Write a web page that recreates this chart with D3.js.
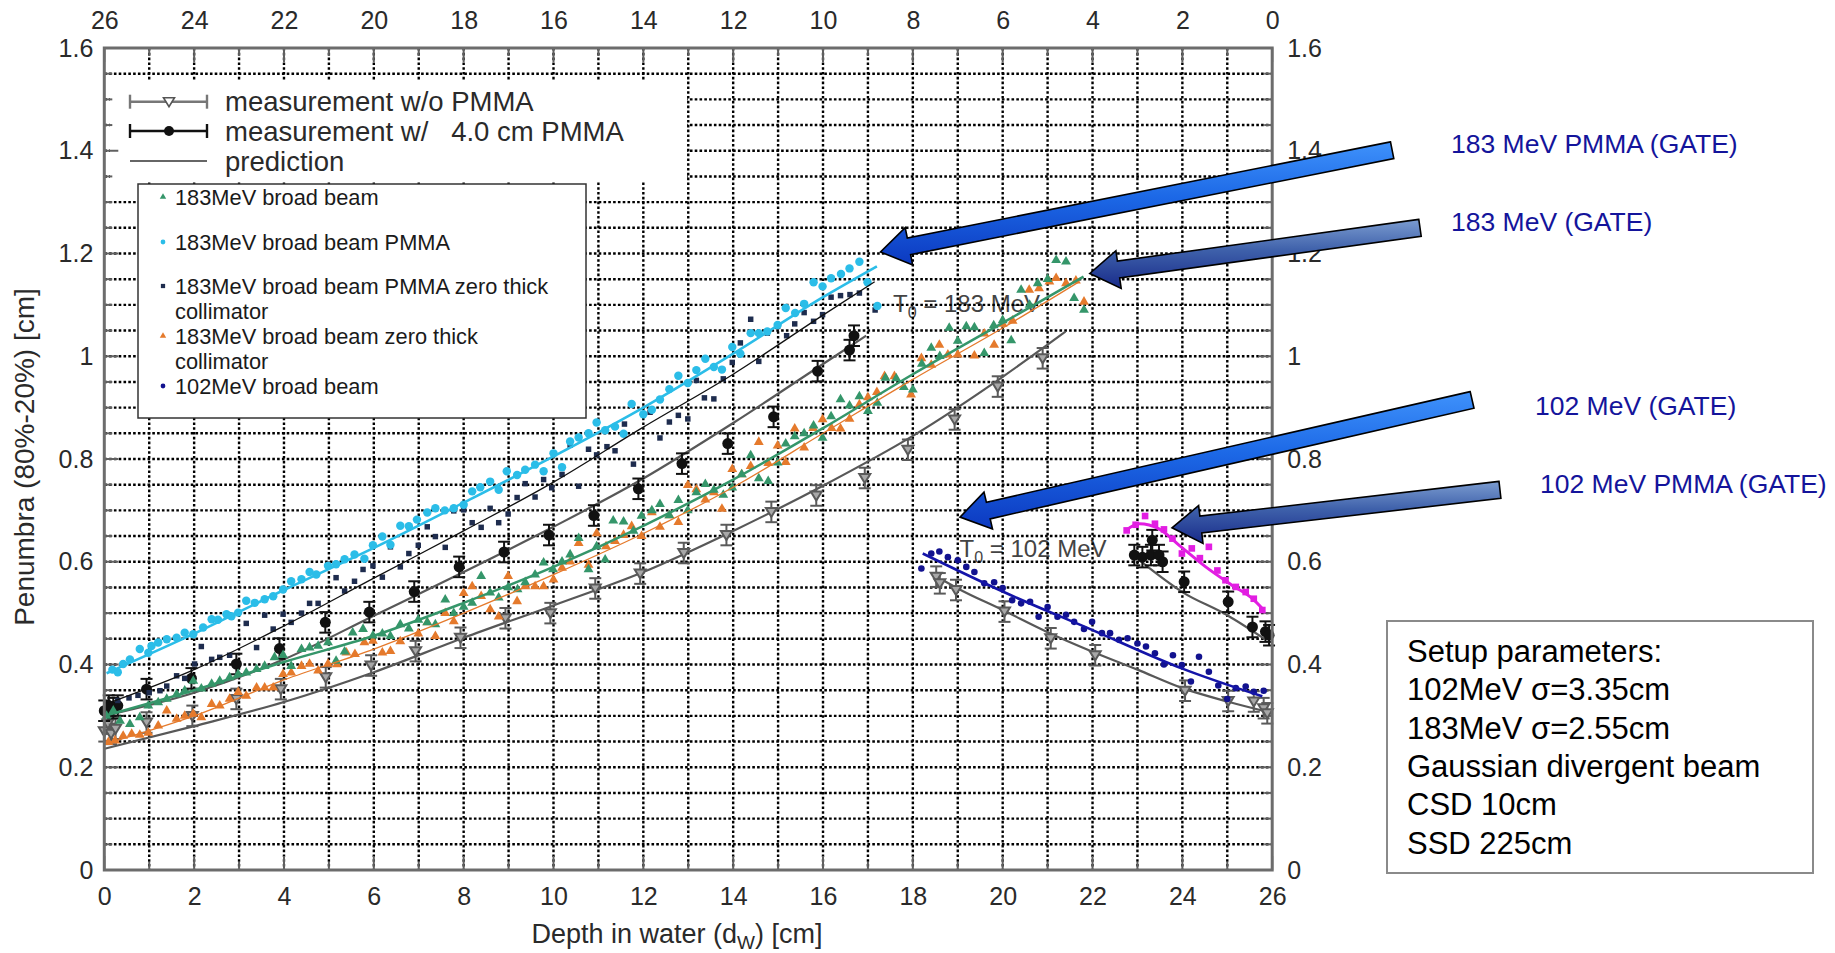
<!DOCTYPE html>
<html>
<head>
<meta charset="utf-8">
<script src="https://cdn.jsdelivr.net/npm/d3@7"></script>
<style>
  body { margin: 0; background: #fff; }
  svg { display: block; font-family: "Liberation Sans", Arial, sans-serif; }
</style>
</head>
<body>
<svg id="chart" width="1835" height="953"></svg>
<script>
// ---- data (depth in cm, penumbra in cm) ----

// GATE: 183MeV broad beam (green triangles)
var green183 = [[0.05,0.30],[0.2,0.31],[0.35,0.29],[0.57,0.284],[0.79,0.297],[0.98,0.32],[1.2,0.326],[1.39,0.333],[1.61,0.342],[1.79,0.349],[1.98,0.368],[2.16,0.353],[2.39,0.362],[2.57,0.368],[2.79,0.375],[2.98,0.381],[3.16,0.384],[3.39,0.391],[3.57,0.397],[3.79,0.414],[3.98,0.418],[4.16,0.397],[4.39,0.43],[4.57,0.433],[4.76,0.436],[4.98,0.443],[5.16,0.407],[5.35,0.425],[5.53,0.462],[5.76,0.469],[5.98,0.456],
  [6.19,0.46],[6.37,0.455],[6.59,0.478],[6.78,0.47],[6.99,0.487],[7.19,0.482],[7.37,0.478],[7.59,0.526],[7.78,0.5],[8.0,0.512],[8.19,0.52],[8.39,0.572],[8.59,0.54],[8.78,0.53],[8.99,0.55],[9.2,0.546],[9.37,0.56],[9.59,0.575],[9.78,0.598],[9.99,0.585],[10.19,0.6],[10.37,0.614],[10.56,0.646],[10.78,0.585],[10.96,0.63],[11.15,0.604],[11.33,0.68],[11.56,0.678],[11.78,0.66],[11.96,0.689],
  [12.19,0.7],[12.37,0.712],[12.58,0.69],[12.78,0.72],[12.99,0.7],[13.18,0.735],[13.38,0.751],[13.57,0.74],[13.78,0.73],[13.98,0.744],[14.19,0.77],[14.39,0.807],[14.57,0.762],[14.78,0.757],[14.99,0.793],[15.17,0.83],[15.37,0.844],[15.58,0.85],[15.79,0.865],[15.99,0.841],[16.18,0.883],[16.39,0.916],[16.59,0.904],[16.81,0.922],[17.0,0.893],[17.21,0.909],[17.39,0.958],[17.63,0.957],[17.8,0.94],[18.0,0.935],[18.2,0.985],[18.41,1.016],[18.6,1.0],[18.81,1.055],[19.0,1.03],[19.19,1.058],[19.37,1.056],[19.59,1.006],[19.8,1.06],[20.0,1.07],[20.19,1.031],[20.41,1.129],[20.6,1.1],[20.78,1.142],[21.0,1.15],[21.19,1.187],[21.41,1.184],[21.59,1.113],[21.81,1.09]];

// GATE: 183MeV broad beam zero thick collimator (orange triangles)
var orange183 = [[0.09,0.249],[0.24,0.252],[0.42,0.261],[0.61,0.265],[0.79,0.263],[0.98,0.267],[1.2,0.281],[1.39,0.31],[1.61,0.294],[1.79,0.3],[1.98,0.304],[2.16,0.297],[2.39,0.323],[2.57,0.32],[2.79,0.333],[2.98,0.346],[3.16,0.339],[3.39,0.355],[3.57,0.355],[3.76,0.355],[3.98,0.381],[4.16,0.384],[4.39,0.397],[4.57,0.401],[4.76,0.388],[4.98,0.401],[5.18,0.4],[5.39,0.423],[5.58,0.42],[5.79,0.443],[5.98,0.446],
  [6.19,0.423],[6.37,0.426],[6.59,0.445],[6.99,0.46],[7.19,0.482],[7.37,0.455],[7.59,0.5],[7.78,0.484],[8.0,0.539],[8.19,0.552],[8.39,0.533],[8.59,0.507],[8.78,0.493],[8.99,0.572],[9.19,0.523],[9.37,0.552],[9.59,0.552],[9.78,0.552],[10.0,0.565],[10.19,0.588],[10.37,0.6],[10.56,0.636],[10.78,0.594],[10.96,0.655],[11.17,0.63],[11.37,0.64],[11.56,0.652],[11.74,0.669],
  [11.96,0.65],[12.19,0.696],[12.37,0.668],[12.58,0.69],[12.78,0.677],[12.99,0.749],[13.18,0.741],[13.38,0.721],[13.57,0.735],[13.75,0.703],[13.98,0.78],[14.19,0.77],[14.39,0.786],[14.57,0.833],[14.78,0.792],[14.99,0.826],[15.17,0.794],[15.37,0.859],[15.58,0.822],[15.78,0.86],[15.99,0.877],[16.19,0.86],[16.39,0.859],[16.59,0.878],[16.81,0.906],[17.0,0.92],[17.2,0.93],[17.37,0.961],[17.59,0.961],[17.96,0.925],[18.19,0.996],[18.41,0.983],[18.59,1.022],[18.78,1.003],[19.0,1.003],[19.37,1.001],[19.59,1.044],[19.81,1.022],[20.0,1.063],[20.22,1.069],[20.59,1.129],[20.81,1.132],[21.04,1.145],[21.19,1.152],[21.41,1.142],[21.63,1.147],[21.81,1.106]];

// GATE: 183MeV broad beam PMMA (cyan dots)
var cyan183 = [[0.18,0.39],[0.3,0.385],[0.42,0.401],[0.57,0.41],[0.79,0.43],[0.98,0.423],[1.05,0.436],[1.2,0.443],[1.39,0.449],[1.61,0.452],[1.79,0.462],[1.98,0.459],[2.2,0.472],[2.39,0.488],[2.53,0.487],[2.72,0.498],[2.83,0.494],[2.98,0.501],[3.16,0.524],[3.35,0.52],[3.57,0.527],[3.76,0.533],[3.98,0.546],[4.16,0.562],[4.39,0.566],[4.57,0.58],[4.72,0.575],[4.98,0.592],[5.16,0.595],[5.35,0.605],[5.57,0.614],[5.79,0.606],[5.98,0.632],
  [6.19,0.649],[6.37,0.633],[6.59,0.67],[6.78,0.669],[6.96,0.682],[7.19,0.696],[7.37,0.704],[7.58,0.7],[7.78,0.704],[8.0,0.711],[8.19,0.737],[8.37,0.745],[8.59,0.756],[8.78,0.74],[8.96,0.776],[9.19,0.769],[9.37,0.779],[9.59,0.789],[9.78,0.776],[10.0,0.811],[10.19,0.784],[10.37,0.834],[10.56,0.842],[10.78,0.85],[10.96,0.871],[11.15,0.856],[11.37,0.863],[11.56,0.849],[11.74,0.907],
  [12.0,0.887],[12.19,0.896],[12.37,0.916],[12.58,0.936],[12.78,0.962],[12.99,0.948],[13.18,0.973],[13.38,0.995],[13.57,0.979],[13.75,0.974],[13.98,1.018],[14.16,1.005],[14.39,1.045],[14.57,1.045],[14.76,1.048],[14.99,1.061],[15.17,1.094],[15.38,1.084],[15.58,1.102],[15.79,1.144],[15.99,1.136],[16.18,1.152],[16.4,1.16],[16.59,1.171],[16.81,1.184],[16.99,1.144],[17.21,1.098]];

// GATE: 183MeV broad beam PMMA zero thick collimator (navy squares)
var navy183 = [[0.3,0.33],[0.55,0.335],[0.75,0.34],[1.0,0.345],[1.24,0.349],[1.39,0.358],[1.61,0.378],[1.79,0.373],[2.01,0.401],[2.16,0.435],[2.39,0.41],[2.57,0.414],[2.79,0.418],[3.16,0.48],[3.39,0.433],[3.57,0.496],[3.76,0.469],[3.98,0.498],[4.16,0.482],[4.39,0.5],[4.57,0.519],[4.76,0.519],[5.16,0.569],[5.35,0.543],[5.57,0.562],[5.76,0.585],[5.98,0.592],
  [6.19,0.57],[6.37,0.629],[6.59,0.59],[6.78,0.616],[6.99,0.632],[7.19,0.668],[7.37,0.649],[7.59,0.628],[7.78,0.699],[8.0,0.701],[8.19,0.676],[8.39,0.667],[8.59,0.704],[8.78,0.676],[8.99,0.693],[9.19,0.725],[9.37,0.752],[9.59,0.726],[9.78,0.76],[9.96,0.744],[10.19,0.77],[10.37,0.827],[10.56,0.747],[10.78,0.819],[10.96,0.808],[11.19,0.824],[11.37,0.816],[11.58,0.868],[11.78,0.79],
  [12.15,0.891],[12.37,0.841],[12.58,0.872],[12.78,0.885],[12.99,0.878],[13.18,0.953],[13.36,0.919],[13.57,0.917],[13.78,0.956],[13.98,0.988],[14.16,1.026],[14.39,1.072],[14.57,0.99],[14.76,1.045],[14.99,1.058],[15.19,1.04],[15.37,1.063],[15.58,1.085],[15.79,1.068],[15.99,1.081],[16.18,1.115],[16.39,1.118],[16.6,1.12],[16.81,1.123],[17.16,1.09]];

// GATE: 102MeV broad beam (blue dots)
var blue102 = [[18.19,0.587],[18.41,0.616],[18.59,0.62],[18.78,0.609],[19.0,0.603],[19.19,0.59],[19.37,0.58],[19.59,0.558],[19.81,0.56],[20.0,0.549],[20.21,0.525],[20.41,0.519],[20.61,0.522],[20.8,0.493],[21.0,0.512],[21.22,0.493],[21.41,0.497],[21.59,0.483],[21.81,0.469],[21.99,0.483],[22.21,0.461],[22.39,0.461],[22.59,0.448],[22.78,0.451],[23.0,0.441],[23.19,0.435],[23.39,0.422],[23.59,0.4],[23.79,0.418],[23.99,0.399],[24.19,0.367],[24.37,0.415],[24.59,0.386],[24.8,0.359],[25.0,0.333],[25.19,0.354],[25.41,0.357],[25.59,0.347],[25.81,0.349]];

// GATE: 102 MeV PMMA (magenta squares)
var magenta102 = [[22.76,0.661],[22.96,0.672],[23.17,0.689],[23.39,0.674],[23.59,0.663],[23.78,0.645],[23.99,0.616],[24.21,0.626],[24.39,0.607],[24.59,0.629],[24.78,0.583],[24.96,0.564],[25.19,0.551],[25.41,0.541],[25.59,0.528],[25.78,0.506]];

// measurement w/o PMMA (grey triangles), 183 and 102 MeV
var woPmma183 = [[0.0,0.27],[0.08,0.285],[0.15,0.265],[0.25,0.275],[0.94,0.287],[1.96,0.3],[2.94,0.333],[3.93,0.352],[4.93,0.375],[5.94,0.398],[6.93,0.426],[7.93,0.452],[8.93,0.49],[9.93,0.5],[10.93,0.548],[11.93,0.577],[12.9,0.617],[13.85,0.652],[14.85,0.697],[15.85,0.729],[16.93,0.763],[17.89,0.818],[18.93,0.877],[19.89,0.941],[20.89,0.996]];
var woPmma102 = [[18.52,0.571],[18.6,0.558],[18.96,0.545],[20.04,0.503],[21.07,0.451],[22.06,0.418],[24.06,0.349],[25.02,0.329],[25.59,0.328],[25.81,0.315],[25.89,0.305]];

// measurement w/ 4.0 cm PMMA (black circles), 183 and 102 MeV
var wPmma183 = [[0.0,0.31],[0.1,0.32],[0.2,0.315],[0.3,0.32],[0.94,0.352],[1.94,0.373],[2.94,0.401],[3.9,0.431],[4.92,0.482],[5.9,0.502],[6.9,0.542],[7.9,0.59],[8.9,0.619],[9.9,0.652],[10.9,0.69],[11.89,0.742],[12.86,0.791],[13.88,0.83],[14.9,0.882],[15.88,0.971],[16.59,1.012],[16.69,1.04]];
var wPmma102 = [[22.93,0.613],[23.11,0.609],[23.3,0.613],[23.33,0.642],[23.48,0.613],[23.56,0.6],[24.04,0.561],[25.02,0.522],[25.56,0.473],[25.85,0.464],[25.93,0.457]];
var measErr = 0.02;

// prediction curves
var predWo183 = [[0,0.236],[2,0.28],[4,0.327],[6,0.385],[8,0.452],[10,0.515],[12,0.58],[14,0.66],[16,0.748],[18,0.845],[20,0.96],[21.4,1.048]];
var predW183 = [[0,0.3],[2,0.345],[4,0.41],[6,0.495],[8,0.58],[10,0.668],[12,0.762],[14,0.87],[16,0.985],[16.96,1.04]];
var predWo102 = [[18.67,0.564],[19,0.548],[20,0.506],[21,0.463],[22,0.425],[23,0.39],[24,0.354],[25,0.328],[25.89,0.308]];
var predW102 = [[23.04,0.603],[24,0.541],[25,0.496],[25.81,0.451]];

// GATE fit curves
var cyanFit = [[0.05,0.383],[2,0.46],[4,0.545],[6,0.627],[8,0.715],[10,0.805],[12,0.9],[14,1.005],[16,1.115],[17.2,1.175]];
var navyFit = [[0,0.322],[2,0.39],[4,0.475],[6,0.568],[8,0.66],[10,0.755],[12,0.862],[14,0.965],[16,1.08],[17.15,1.145]];
var greenFit = [[0,0.3],[2,0.35],[4,0.405],[6,0.456],[8,0.52],[10,0.59],[12,0.67],[14,0.76],[16,0.86],[18,0.965],[20,1.065],[21.8,1.155]];
var orangeFit = [[0,0.245],[2,0.3],[4,0.37],[6,0.43],[8,0.5],[10,0.575],[12,0.655],[14,0.745],[16,0.85],[18,0.955],[20,1.055],[21.7,1.145]];
var blueFit = [[18.22,0.616],[20,0.542],[22,0.467],[24,0.392],[25.78,0.338]];
var magentaFit = [[22.74,0.661],[23.04,0.674],[23.48,0.664],[23.93,0.632],[24.52,0.59],[25.11,0.554],[25.56,0.528],[25.81,0.506]];

// tick labels
var xTicks = d3.range(0, 27, 2);
var yTicks = [0, 0.2, 0.4, 0.6, 0.8, 1, 1.2, 1.4, 1.6];

// legends and notes
var legendMeas = ["measurement w/o PMMA", "measurement w/   4.0 cm PMMA", "prediction"];
var legendGate = [
  {kind: "green", lines: ["183MeV broad beam"]},
  {kind: "cyan", lines: ["183MeV broad beam PMMA"]},
  {kind: "navy", lines: ["183MeV broad beam PMMA zero thick", "collimator"]},
  {kind: "orange", lines: ["183MeV broad beam zero thick", "collimator"]},
  {kind: "blue", lines: ["102MeV broad beam"]}
];
var arrowLabels = ["183 MeV PMMA (GATE)", "183 MeV (GATE)", "102 MeV (GATE)", "102 MeV PMMA (GATE)"];
var arrowTips = [[17.28, 1.203], [21.94, 1.161], [19.05, 0.687], [23.77, 0.666]];
var arrowTails = [[28.67, 1.401], [29.29, 1.25], [30.45, 0.915], [31.07, 0.74]];
var setupLines = ["Setup parameters:", "102MeV \u03c3=3.35cm", "183MeV \u03c3=2.55cm", "Gaussian divergent beam", "CSD 10cm", "SSD 225cm"];

var colors = {green: "#35966a", orange: "#e57a2c", cyan: "#2bbde8", navy: "#1e2c4e", blue: "#12128f", magenta: "#e21ee2"};

// ---- chart ----
var svg = d3.select("#chart");
var x = d3.scaleLinear().domain([0, 26]).range([104.3, 1272.2]);
var xTop = d3.scaleLinear().domain([26, 0]).range([104.3, 1272.2]);
var y = d3.scaleLinear().domain([0, 1.6]).range([870, 48]);
var line = d3.line().x(function (d) { return x(d[0]); }).y(function (d) { return y(d[1]); }).curve(d3.curveMonotoneX);

svg.append("rect").attr("width", 1835).attr("height", 953).attr("fill", "#fff");

// energy labels (under the grid like in the source figure)
function t0Label(xv, yv, mev) {
  var t = svg.append("text").attr("x", x(xv)).attr("y", y(yv))
    .attr("font-size", 24).attr("fill", "#444");
  t.append("tspan").text("T");
  t.append("tspan").attr("font-size", 16).attr("dy", 6).text("0");
  t.append("tspan").attr("dy", -6).text(" = " + mev + " MeV");
}
t0Label(17.56, 1.087, 183);
t0Label(19.04, 0.609, 102);

// dotted grid
var grid = svg.append("g").attr("stroke", "#000").attr("stroke-width", 2.4).attr("stroke-dasharray", "2.6,2.2");
grid.selectAll(".v").data(d3.range(1, 26)).join("line").attr("class", "v")
  .attr("x1", function (d) { return x(d); }).attr("x2", function (d) { return x(d); })
  .attr("y1", y(1.6)).attr("y2", y(0));
grid.selectAll(".h").data(d3.range(1, 32).map(function (i) { return i * 0.05; })).join("line").attr("class", "h")
  .attr("y1", function (d) { return y(d); }).attr("y2", function (d) { return y(d); })
  .attr("x1", x(0)).attr("x2", x(26));

// legend backgrounds hide the grid
svg.append("rect").attr("x", 110).attr("y", 80).attr("width", 577).attr("height", 101).attr("fill", "#fff");
svg.append("rect").attr("x", 138).attr("y", 184).attr("width", 448).attr("height", 234)
  .attr("fill", "#fff").attr("stroke", "#333").attr("stroke-width", 1.5);

// inner ticks
var ticks = svg.append("g").attr("stroke", "#606060").attr("stroke-width", 2);
d3.range(0, 33).forEach(function (i) {
  var v = i * 0.05, len = (i % 4 === 0) ? 14 : 8;
  ticks.append("line").attr("x1", x(0)).attr("x2", x(0) + len).attr("y1", y(v)).attr("y2", y(v));
  ticks.append("line").attr("x1", x(26)).attr("x2", x(26) - len).attr("y1", y(v)).attr("y2", y(v));
});
d3.range(0, 27).forEach(function (i) {
  var len = (i % 2 === 0) ? 14 : 8;
  ticks.append("line").attr("x1", x(i)).attr("x2", x(i)).attr("y1", y(0)).attr("y2", y(0) - len);
  ticks.append("line").attr("x1", x(i)).attr("x2", x(i)).attr("y1", y(1.6)).attr("y2", y(1.6) + len);
});

// prediction curves
var pred = svg.append("g").attr("fill", "none").attr("stroke", "#585858").attr("stroke-width", 2.2);
[predWo183, predW183, predWo102, predW102].forEach(function (s) {
  pred.append("path").attr("d", line(s));
});

// measurements with error bars
function errorBars(g, data) {
  data.forEach(function (d) {
    var cx = x(d[0]), y1 = y(d[1] - measErr), y2 = y(d[1] + measErr);
    g.append("line").attr("x1", cx).attr("x2", cx).attr("y1", y1).attr("y2", y2);
    g.append("line").attr("x1", cx - 6).attr("x2", cx + 6).attr("y1", y1).attr("y2", y1);
    g.append("line").attr("x1", cx - 6).attr("x2", cx + 6).attr("y1", y2).attr("y2", y2);
  });
}
var triDown = "M-5.5,-4L5.5,-4L0,5Z";
var gWo = svg.append("g").attr("stroke", "#5a5a5a").attr("stroke-width", 2);
errorBars(gWo, woPmma183.concat(woPmma102));
gWo.selectAll("path").data(woPmma183.concat(woPmma102)).join("path")
  .attr("d", triDown).attr("fill", "#a8a8a8")
  .attr("transform", function (d) { return "translate(" + x(d[0]) + "," + y(d[1]) + ")"; });

var gW = svg.append("g").attr("stroke", "#111").attr("stroke-width", 2);
errorBars(gW, wPmma183.concat(wPmma102));
gW.selectAll("circle").data(wPmma183.concat(wPmma102)).join("circle")
  .attr("cx", function (d) { return x(d[0]); }).attr("cy", function (d) { return y(d[1]); })
  .attr("r", 5.5).attr("fill", "#111").attr("stroke", "none");

// GATE scatter
function scatter(data, sym, size, color) {
  svg.append("g").selectAll("path").data(data).join("path")
    .attr("d", d3.symbol(sym, size)())
    .attr("fill", color)
    .attr("transform", function (d) { return "translate(" + x(d[0]) + "," + y(d[1]) + ")"; });
}
scatter(orange183, d3.symbolTriangle, 42, colors.orange);
scatter(green183, d3.symbolTriangle, 42, colors.green);
scatter(navy183, d3.symbolSquare, 30, colors.navy);
scatter(cyan183, d3.symbolCircle, 56, colors.cyan);
scatter(blue102, d3.symbolCircle, 34, colors.blue);
scatter(magenta102, d3.symbolSquare, 44, colors.magenta);

// GATE fit curves
function fit(data, color, w) {
  svg.append("path").attr("d", line(data)).attr("fill", "none").attr("stroke", color).attr("stroke-width", w);
}
fit(orangeFit, colors.orange, 1.3);
fit(navyFit, "#111", 1.3);
fit(greenFit, colors.green, 2.5);
fit(cyanFit, colors.cyan, 2.6);
fit(blueFit, "#1414a8", 2.6);
fit(magentaFit, colors.magenta, 3);

// frame
svg.append("rect").attr("x", x(0)).attr("y", y(1.6)).attr("width", x(26) - x(0)).attr("height", y(0) - y(1.6))
  .attr("fill", "none").attr("stroke", "#6c6c6c").attr("stroke-width", 3);

// axes (labels only)
function styleAxis(g) {
  g.select(".domain").remove();
  g.selectAll("text").attr("font-size", 25).attr("fill", "#2a2a2a").attr("font-family", "Liberation Sans, Arial, sans-serif");
}
svg.append("g").attr("transform", "translate(0," + y(0) + ")")
  .call(d3.axisBottom(x).tickValues(xTicks).tickSize(0).tickPadding(17).tickFormat(d3.format("d"))).call(styleAxis);
svg.append("g").attr("transform", "translate(0," + y(1.6) + ")")
  .call(d3.axisTop(xTop).tickValues(xTicks).tickSize(0).tickPadding(19).tickFormat(d3.format("d"))).call(styleAxis);
svg.append("g").attr("transform", "translate(" + x(0) + ",0)")
  .call(d3.axisLeft(y).tickValues(yTicks).tickSize(0).tickPadding(11).tickFormat(d3.format("~g"))).call(styleAxis);
svg.append("g").attr("transform", "translate(" + x(26) + ",0)")
  .call(d3.axisRight(y).tickValues(yTicks).tickSize(0).tickPadding(15).tickFormat(d3.format("~g"))).call(styleAxis);

// axis titles
var xt = svg.append("text").attr("x", 677).attr("y", 943).attr("text-anchor", "middle")
  .attr("font-size", 27).attr("fill", "#2a2a2a");
xt.append("tspan").text("Depth in water (d");
xt.append("tspan").attr("font-size", 19).attr("dy", 6).text("W");
xt.append("tspan").attr("dy", -6).text(") [cm]");
svg.append("text").attr("transform", "translate(34,457) rotate(-90)").attr("text-anchor", "middle")
  .attr("font-size", 28).attr("fill", "#2a2a2a").text("Penumbra (80%-20%) [cm]");

// measurement legend
var lg = svg.append("g");
var rowsY = [101.7, 131, 161];
rowsY.forEach(function (ry, i) {
  var col = i === 0 ? "#777" : (i === 1 ? "#111" : "#333");
  var sw = i === 2 ? 1.6 : 2.4;
  lg.append("line").attr("x1", 130).attr("x2", 207).attr("y1", ry).attr("y2", ry).attr("stroke", col).attr("stroke-width", sw);
  if (i < 2) {
    lg.append("line").attr("x1", 130).attr("x2", 130).attr("y1", ry - 7).attr("y2", ry + 7).attr("stroke", col).attr("stroke-width", sw);
    lg.append("line").attr("x1", 207).attr("x2", 207).attr("y1", ry - 7).attr("y2", ry + 7).attr("stroke", col).attr("stroke-width", sw);
  }
  if (i === 0) lg.append("path").attr("d", triDown).attr("transform", "translate(169," + ry + ")").attr("fill", "#fff").attr("stroke", "#555").attr("stroke-width", 1.6);
  if (i === 1) lg.append("circle").attr("cx", 169).attr("cy", ry).attr("r", 5).attr("fill", "#111");
  lg.append("text").attr("x", 225).attr("y", ry).attr("dy", "0.35em").attr("font-size", 27.5).attr("fill", "#2a2a2a")
    .style("white-space", "pre").text(legendMeas[i]);
});

// GATE legend
var gateRows = [197, 242, 286, 336, 386];
var legendSym = {green: d3.symbolTriangle, orange: d3.symbolTriangle, cyan: d3.symbolCircle, navy: d3.symbolSquare, blue: d3.symbolCircle};
legendGate.forEach(function (e, i) {
  var ry = gateRows[i];
  svg.append("path").attr("d", d3.symbol(legendSym[e.kind], 18)()).attr("fill", colors[e.kind])
    .attr("transform", "translate(163," + ry + ")");
  e.lines.forEach(function (t, j) {
    svg.append("text").attr("x", 175).attr("y", ry + j * 25).attr("dy", "0.35em")
      .attr("font-size", 21.8).attr("fill", "#1a1a1a").text(t);
  });
});

// annotation arrows
var defs = svg.append("defs");
function grad(id, stops) {
  var g = defs.append("linearGradient").attr("id", id).attr("x1", 0).attr("y1", 0).attr("x2", 0).attr("y2", 1);
  stops.forEach(function (s) { g.append("stop").attr("offset", s[0]).attr("stop-color", s[1]); });
}
grad("gBright", [["0%", "#3f92fb"], ["45%", "#1c68e6"], ["100%", "#0c39c0"]]);
grad("gSteel", [["0%", "#7b9cd0"], ["45%", "#3e60aa"], ["100%", "#182b8a"]]);
function arrowPath(x1, y1, x2, y2) {
  var dx = x2 - x1, dy = y2 - y1, L = Math.hypot(dx, dy), ux = dx / L, uy = dy / L, px = -uy, py = ux;
  var sw = 8.5, hw = 19, hl = 29;
  var bx = x2 - ux * hl, by = y2 - uy * hl;
  var pts = [[x1 + px * sw, y1 + py * sw], [bx + px * sw, by + py * sw], [bx + px * hw, by + py * hw], [x2, y2],
    [bx - px * hw, by - py * hw], [bx - px * sw, by - py * sw], [x1 - px * sw, y1 - py * sw]];
  return "M" + pts.map(function (p) { return p[0].toFixed(1) + "," + p[1].toFixed(1); }).join("L") + "Z";
}
var labelPos = [[1451, 144], [1451, 222], [1535, 406], [1540, 484]];
arrowTips.forEach(function (tip, i) {
  var tail = arrowTails[i];
  svg.append("path").attr("d", arrowPath(x(tail[0]), y(tail[1]), x(tip[0]), y(tip[1])))
    .attr("fill", (i % 2 === 0) ? "url(#gBright)" : "url(#gSteel)")
    .attr("stroke", "#000").attr("stroke-width", 1.6).attr("stroke-linejoin", "miter");
  svg.append("text").attr("x", labelPos[i][0]).attr("y", labelPos[i][1]).attr("dy", "0.35em")
    .attr("font-size", 26.5).attr("fill", "#14149b").text(arrowLabels[i]);
});

// setup parameters box
svg.append("rect").attr("x", 1387).attr("y", 621).attr("width", 426).attr("height", 252)
  .attr("fill", "#fff").attr("stroke", "#8a8a8a").attr("stroke-width", 2);
svg.append("g").selectAll("text").data(setupLines).join("text")
  .attr("x", 1407).attr("y", function (d, i) { return 662 + i * 38.3; })
  .attr("font-size", 31).attr("fill", "#000").text(function (d) { return d; });
</script>
</body>
</html>
